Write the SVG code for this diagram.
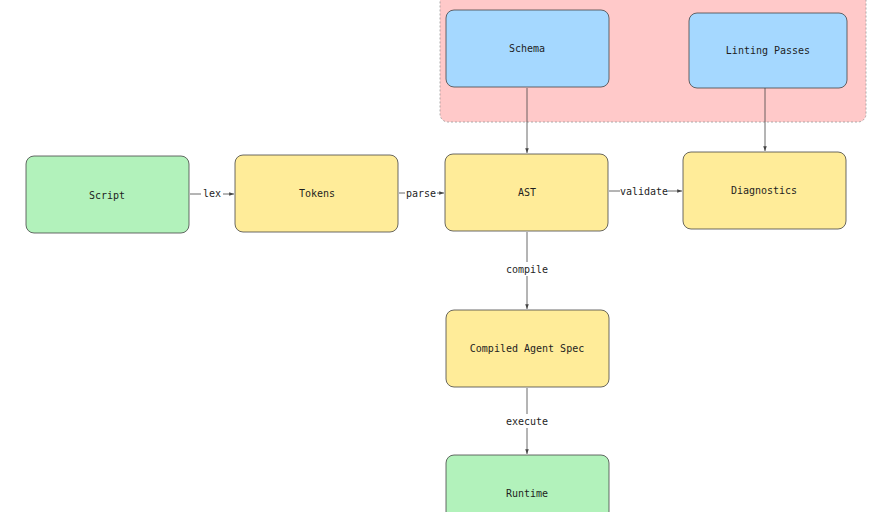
<svg xmlns="http://www.w3.org/2000/svg" width="890" height="512" viewBox="0 0 890 512">
<style>
.n{stroke:#444;stroke-width:0.8}
.g{fill:#b2f2bb}.y{fill:#ffec99}.b{fill:#a5d8ff}
text{font-family:"DejaVu Sans Mono","Liberation Mono",monospace;font-size:10px;fill:#1e1e1e;text-anchor:middle;dominant-baseline:central}
.e{stroke:#444;stroke-width:0.8;fill:none;marker-end:url(#a)}
.lb{fill:#fff}
</style>
<defs><marker id="a" viewBox="0 0 8 8" refX="8" refY="4" markerWidth="6" markerHeight="6" orient="auto"><path d="M0,1 L8,4 L0,7z" fill="#444"/></marker></defs>
<rect x="440" y="-10" width="426" height="132" rx="8" fill="#ffc9c9" stroke="#999" stroke-width="0.8" stroke-dasharray="2,2"/>
<g id="edges">
<path class="e" d="M190,194 H234"/>
<path class="e" d="M399,193 H444"/>
<path class="e" d="M609,191 H682"/>
<path class="e" d="M527,232 V309"/>
<path class="e" d="M527,388 V454"/>
<path class="e" d="M527,88 V153"/>
<path class="e" d="M765,88 V151"/>
<rect class="lb" x="201" y="186" width="22" height="14"/><text x="212" y="193">lex</text>
<rect class="lb" x="405" y="186" width="32" height="14"/><text x="421" y="193">parse</text>
<rect class="lb" x="620" y="184" width="48" height="14"/><text x="644" y="191">validate</text>
<rect class="lb" x="506" y="262" width="42" height="14"/><text x="527" y="269">compile</text>
<rect class="lb" x="505" y="414" width="44" height="14"/><text x="527" y="421">execute</text>
</g>
<g id="schema"><rect class="n b" x="446" y="10" width="163" height="77" rx="8"/><text x="527" y="48">Schema</text></g>
<g id="linting"><rect class="n b" x="689" y="13" width="158" height="75" rx="8"/><text x="768" y="50">Linting Passes</text></g>
<g id="script"><rect class="n g" x="26" y="156" width="163" height="77" rx="8"/><text x="107" y="195">Script</text></g>
<g id="tokens"><rect class="n y" x="235" y="155" width="163" height="77" rx="8"/><text x="317" y="193">Tokens</text></g>
<g id="ast"><rect class="n y" x="445" y="154" width="163" height="77" rx="8"/><text x="527" y="192">AST</text></g>
<g id="diagnostics"><rect class="n y" x="683" y="152" width="163" height="77" rx="8"/><text x="764" y="190">Diagnostics</text></g>
<g id="compiled"><rect class="n y" x="446" y="310" width="163" height="77" rx="8"/><text x="527" y="348">Compiled Agent Spec</text></g>
<g id="runtime"><rect class="n g" x="446" y="455" width="163" height="77" rx="8"/><text x="527" y="493">Runtime</text></g>
</svg>
